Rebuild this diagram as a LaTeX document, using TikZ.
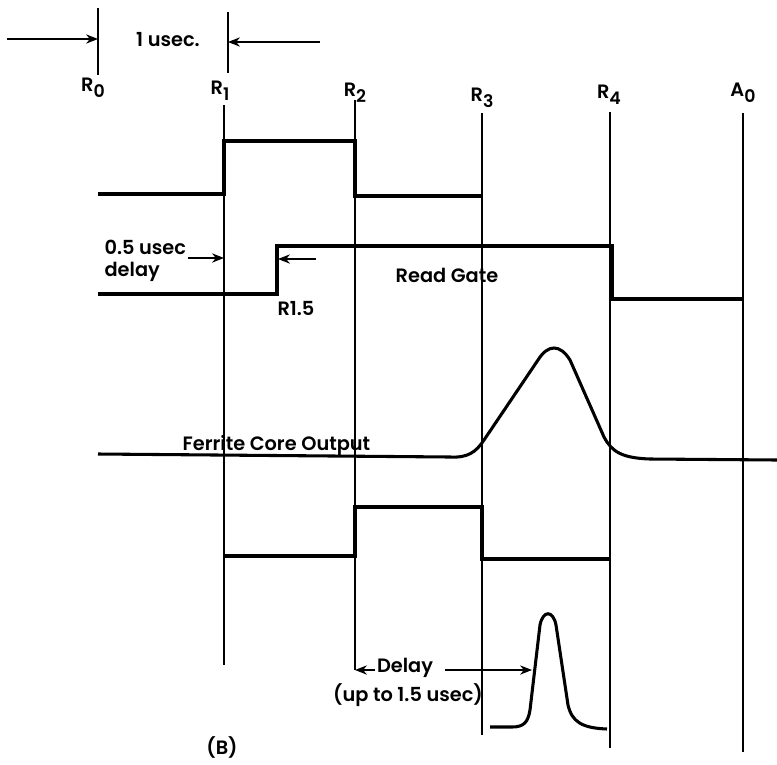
\documentclass[tikz,border=0pt]{standalone}
\usepackage{fontspec}
\setmainfont{Poppins}[UprightFont={* SemiBold}]
\usepackage{tikz}
\usetikzlibrary{arrows.meta,calc}

\newcommand{\lblsub}[2]{#1\raisebox{-0.55ex}{\fontsize{13}{13}\selectfont #2}}

\begin{document}
\begin{tikzpicture}[
  x=0.75pt, y=-0.75pt,
  tline/.style={line width=0.9pt},
  wave/.style={line width=2.3pt, line join=miter},
  lbl/.style={font=\fontsize{14.5}{17}\selectfont, inner sep=1pt},
  >={Stealth[length=9pt,width=7pt]}
]
  \useasboundingbox (0,0) rectangle (777,764);

  % 1 usec scale at the top
  \coordinate (r0t) at (98,8);   \coordinate (r0b) at (98,75);
  \coordinate (r1t) at (228,12); \coordinate (r1b) at (228,73);
  \draw[tline] (r0t) -- (r0b);
  \draw[tline] (r1t) -- (r1b);
  \coordinate (lft) at (7,39);
  \coordinate (rgt) at (320,42);
  \draw[->, tline] (lft) -- (lft -| r0t);
  \draw[->, tline] (rgt) -- (rgt -| r1t);
  \node[lbl] (usec) at (168,40) {1 usec.};

  % clock labels
  \node[lbl] (R0) at (93,88)  {\lblsub{R}{0}};
  \node[lbl] (R1) at (220,91) {\lblsub{R}{1}};
  \node[lbl] (R2) at (355,93) {\lblsub{R}{2}};
  \node[lbl] (R3) at (482,98) {\lblsub{R}{3}};
  \node[lbl] (R4) at (609,95) {\lblsub{R}{4}};
  \node[lbl] (A0) at (743,93) {\lblsub{A}{0}};

  % time lines
  \foreach \x/\ya/\yb in {224/105/665, 355/100/670, 482/113/735, 610/112/748, 743/113/752}
    \draw[tline] (\x,\ya) -- (\x,\yb);

  % waveforms
  \draw[wave] (98,194) -| (224,141) -| (355,196) -- (482,196);
  \draw[wave] (98,294) -| (277,246) -| (612,299) -- (743,299);
  \draw[wave] (98,454) -- (450,457) .. controls (468,458) and (476,452) .. (484,440)
    -- (538,360) .. controls (548,344) and (560,344) .. (570,360)
    -- (604,437) .. controls (612,452) and (622,458) .. (650,459) -- (777,460);
  \draw[wave] (224,556) -| (355,507) -| (482,559) -- (610,559);
  \draw[wave] (490,727) -- (512,727) .. controls (524,727) and (528,722) .. (530,710)
    -- (540,625) .. controls (543,610) and (553,610) .. (556,625)
    -- (568,705) .. controls (572,722) and (582,728) .. (607,729);

  % read gate notes
  \node[lbl, align=left, anchor=west] (half) at (103,261) {0.5 usec\\delay};
  \coordinate (r1h) at (224,258);
  \draw[->, tline] (half.east |- r1h) -- (r1h);
  \node[lbl] (r15) at (296,308) {R1.5};
  \coordinate (r15a) at (278,259);
  \draw[->, tline] (r15.north east |- r15a) -- (r15a);
  \node[lbl] (gate) at (447,275) {Read Gate};
  \node[lbl, anchor=west] (core) at (181,445) {Ferrite Core Output};

  % delay
  \node[lbl] (dly) at (405,668) {Delay};
  \node[lbl] (upto) at (408,695) {(up to 1.5 usec)};
  \coordinate (r2d) at (355,670);
  \coordinate (pk) at (532,670);
  \draw[->, tline] (dly.west |- r2d) -- (r2d);
  \draw[->, tline, shorten <=8pt] (dly.east |- pk) -- (pk);

  \node[lbl] (B) at (222,747) {(B)};
\end{tikzpicture}
\end{document}
